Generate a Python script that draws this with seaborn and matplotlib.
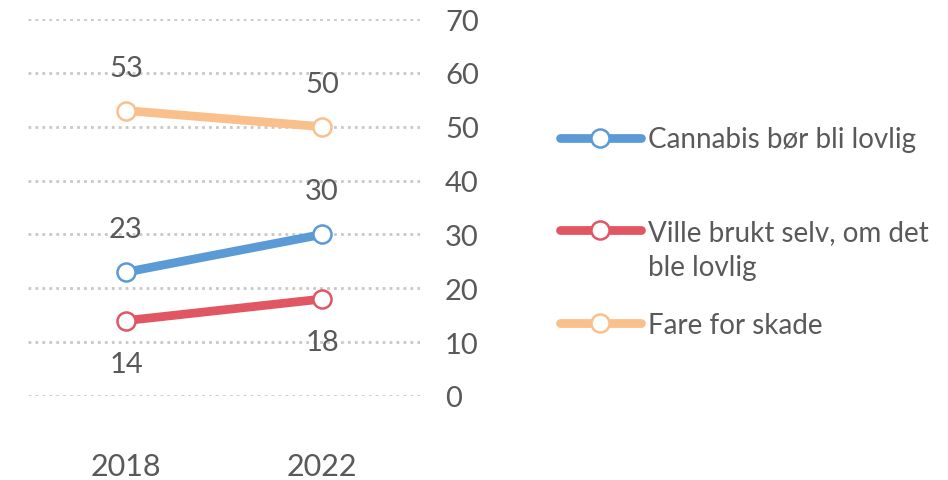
import matplotlib.pyplot as plt
import seaborn as sns

# Data
years = ['2018', '2022']
series = ['Cannabis bør bli lovlig', 'Ville brukt selv, om det', 'Fare for skade']
cannabis = [23, 30]
ville_bruke = [14, 18]
fare = [53, 50]
extra_line = 'ble lovlig'  # second line of the red legend label
y_ticks = [0, 10, 20, 30, 40, 50, 60, 70]

values = [cannabis, ville_bruke, fare]
colors = ['#5B9BD5', '#E05763', '#F9C08C']
label_side = [1, -1, 1]  # data label above (1) or below (-1)

sns.set_style('white')
plt.rcParams['font.family'] = ['Lato', 'DejaVu Sans']
text_col = '#595959'
fs = 21

fig = plt.figure(figsize=(9.48, 4.81), dpi=100)
ax = fig.add_axes([28 / 948, 84 / 481, 392 / 948, 377 / 481])

for name, vals, col, side in zip(series, values, colors, label_side):
    sns.lineplot(x=years, y=vals, ax=ax, color=col, linewidth=6.3, marker='o',
                 markersize=13, markerfacecolor='white', markeredgecolor=col,
                 markeredgewidth=1.8, label=name, zorder=3)
    for i, v in enumerate(vals):
        ax.annotate(str(v), (i, v), xytext=(0, 31 * side), textcoords='offset points',
                    ha='center', va='center', fontsize=fs, color=text_col)

ax.set_xlim(-0.5, 1.5)
ax.set_ylim(0, 70)
ax.set_yticks(y_ticks)
ax.yaxis.tick_right()
ax.tick_params(axis='y', length=0, pad=18, labelsize=fs, labelcolor=text_col)
ax.tick_params(axis='x', length=0, pad=40, labelsize=22, labelcolor=text_col)
ax.set_xlabel('')
ax.set_ylabel('')
ax.grid(axis='y', color='#C8C8C8', linestyle=(0, (1, 1.5)), linewidth=2)
ax.grid(axis='x', visible=False)
for s in ax.spines.values():
    s.set_visible(False)

ax.get_legend().remove()
h, l = ax.get_legend_handles_labels()
leg = fig.legend(h, l, loc='center left', bbox_to_anchor=(560 / 948, 1 - 233 / 481),
                 frameon=False, fontsize=20, handlelength=2.9, handletextpad=0.25,
                 labelspacing=2.4, borderpad=0, borderaxespad=0, numpoints=1)
for t in leg.get_texts():
    t.set_color(text_col)
ax.annotate(extra_line, xy=(0, 0), xycoords=leg.get_texts()[1], xytext=(0, -25),
            textcoords='offset points', ha='left', va='bottom', fontsize=20,
            color=text_col, annotation_clip=False)

fig.canvas.draw()
plt.savefig('out.png', dpi=100)
